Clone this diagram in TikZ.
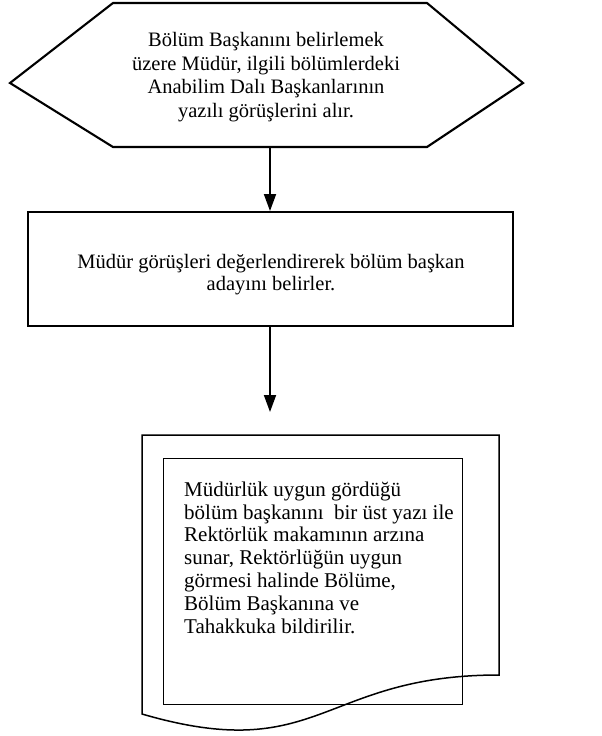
\documentclass[tikz,border=0pt]{standalone}
\usepackage{fontspec}
\setmainfont{Liberation Serif}
\usetikzlibrary{arrows.meta}
\begin{document}
\begin{tikzpicture}[x=1pt,y=-1pt,
  txt/.style={font=\fontsize{20.5}{23.5}\selectfont, inner sep=0pt},
  flow/.style={line width=1.8pt, -{Triangle[length=17pt,width=12pt]}}]
\useasboundingbox (0,0) rectangle (602,736);
% hexagon
\draw[line width=2.1pt, line join=miter] (113,3) -- (427,3) -- (523,83) -- (427,147) -- (113,147) -- (10,83) -- cycle;
\coordinate (hexb) at (270,147);
\node[txt, align=center] (hex) at (266,77) {Bölüm Başkanını belirlemek\\üzere Müdür, ilgili bölümlerdeki\\Anabilim Dalı Başkanlarının\\yazılı görüşlerini alır.};
% process box
\node[draw, line width=2pt, minimum width=485pt, minimum height=114pt, inner sep=0pt] (box) at (270.5,269) {};
\node[txt, align=center, font=\fontsize{20.5}{22}\selectfont] (boxtxt) at (271,274.5) {Müdür görüşleri değerlendirerek bölüm başkan\\adayını belirler.};
% document
\draw[line width=1.5pt] (142,435) -- (499,435) -- (499,675) .. controls (320.5,675) and (320.5,766) .. (142,714) -- cycle;
\node[draw, line width=0.9pt, minimum width=299pt, minimum height=246pt, inner sep=0pt] (inner) at (312.5,581) {};
\node[inner sep=0pt, align=left, anchor=north west, font=\fontsize{21}{22.8}\selectfont] (doctxt) at (184,481.5) {Müdürlük uygun gördüğü\\bölüm başkanını~ bir üst yazı ile\\Rektörlük makamının arzına\\sunar, Rektörlüğün uygun\\görmesi halinde Bölüme,\\Bölüm Başkanına ve\\Tahakkuka bildirilir.};
\coordinate (arrend) at (270,412);
\draw[flow] (hexb) -- (box.north -| hexb);
\draw[flow] (box.south -| hexb) -- (arrend);
\end{tikzpicture}
\end{document}
